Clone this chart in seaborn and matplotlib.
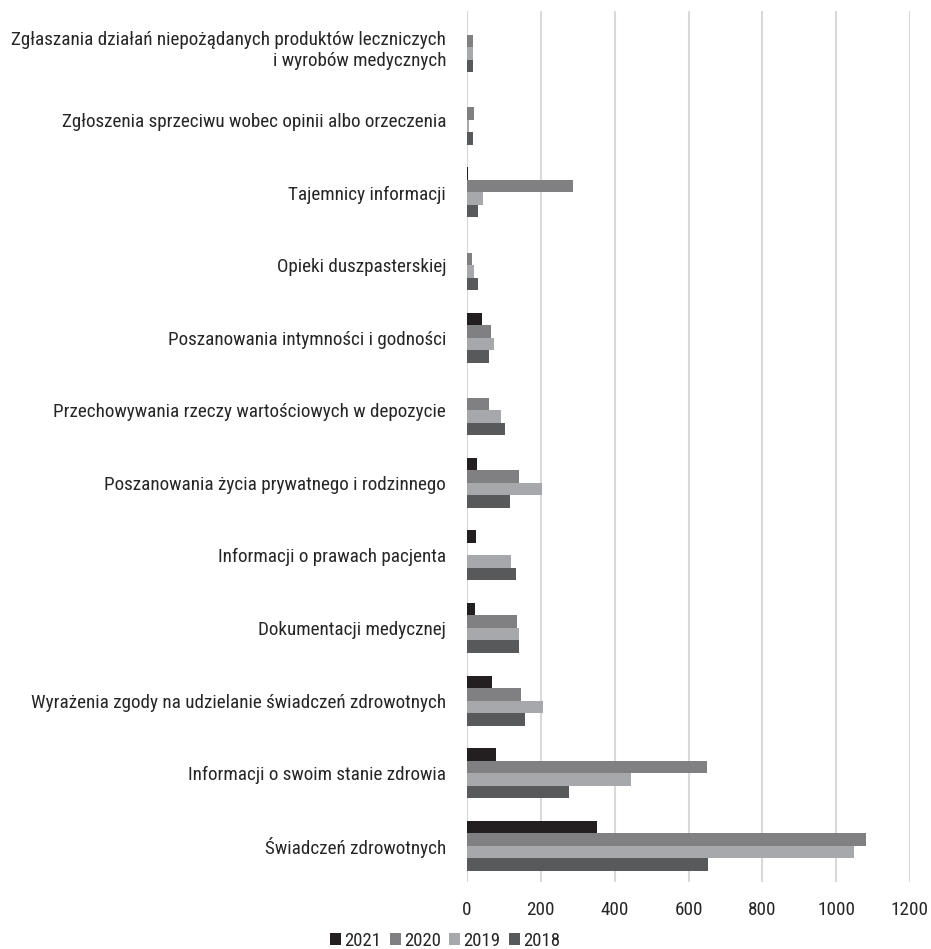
import matplotlib
matplotlib.use("Agg")
import matplotlib.pyplot as plt
import seaborn as sns
import pandas as pd

categories = [
    "Zgłaszania działań niepożądanych produktów leczniczych\ni wyrobów medycznych",
    "Zgłoszenia sprzeciwu wobec opinii albo orzeczenia",
    "Tajemnicy informacji",
    "Opieki duszpasterskiej",
    "Poszanowania intymności i godności",
    "Przechowywania rzeczy wartościowych w depozycie",
    "Poszanowania życia prywatnego i rodzinnego",
    "Informacji o prawach pacjenta",
    "Dokumentacji medycznej",
    "Wyrażenia zgody na udzielanie świadczeń zdrowotnych",
    "Informacji o swoim stanie zdrowia",
    "Świadczeń zdrowotnych",
]
years = ["2021", "2020", "2019", "2018"]
v2021 = [1, 0, 2, 0, 40, 0, 27, 24, 22, 67, 78, 352]
v2020 = [15, 20, 286, 13, 66, 60, 141, 0, 135, 147, 650, 1082]
v2019 = [17, 5, 44, 20, 72, 91, 202, 119, 142, 206, 443, 1048]
v2018 = [15, 16, 29, 31, 60, 104, 117, 134, 140, 158, 276, 653]
colors = ["#231f20", "#808083", "#a7a8ab", "#58595b"]

rows = []
for year, vals in zip(years, [v2021, v2020, v2019, v2018]):
    for cat, v in zip(categories, vals):
        rows.append({"kategoria": cat, "rok": year, "liczba": v})
df = pd.DataFrame(rows)

sns.set_style("white")
plt.rcParams["font.family"] = ["Roboto Condensed", "Liberation Sans", "DejaVu Sans"]

fig = plt.figure(figsize=(9.31, 9.49), dpi=100)
ax = fig.add_axes([467 / 931, 1 - 882 / 949, (910 - 467) / 931, (882 - 11) / 949])

sns.barplot(data=df, y="kategoria", x="liczba", hue="rok", order=categories,
            hue_order=years, palette=colors, orient="h", width=0.69,
            saturation=1, errorbar=None, ax=ax, linewidth=0)

ax.set_xlim(0, 1200)
ax.set_xticks(range(0, 1201, 200))
ax.xaxis.grid(True, color="#d9d9d9", linewidth=1.5)
ax.set_axisbelow(True)
for s in ax.spines.values():
    s.set_visible(False)
ax.axvline(0, color="#d9d9d9", linewidth=1.5, zorder=0)
ax.set_xlabel("")
ax.set_ylabel("")
ax.tick_params(axis="both", length=0, labelsize=13.8, colors="#262626")
ax.tick_params(axis="x", pad=14)
ax.tick_params(axis="y", pad=15)

handles, labels = ax.get_legend_handles_labels()
ax.legend(handles, labels, loc="center", bbox_to_anchor=(445 / 931, 1 - 941 / 949),
          bbox_transform=fig.transFigure, ncol=4, frameon=False, fontsize=13.5,
          handlelength=0.6, handleheight=0.6, handletextpad=0.15, columnspacing=0.45,
          labelcolor="#262626", borderpad=0)

fig.savefig("out.png", dpi=100)
